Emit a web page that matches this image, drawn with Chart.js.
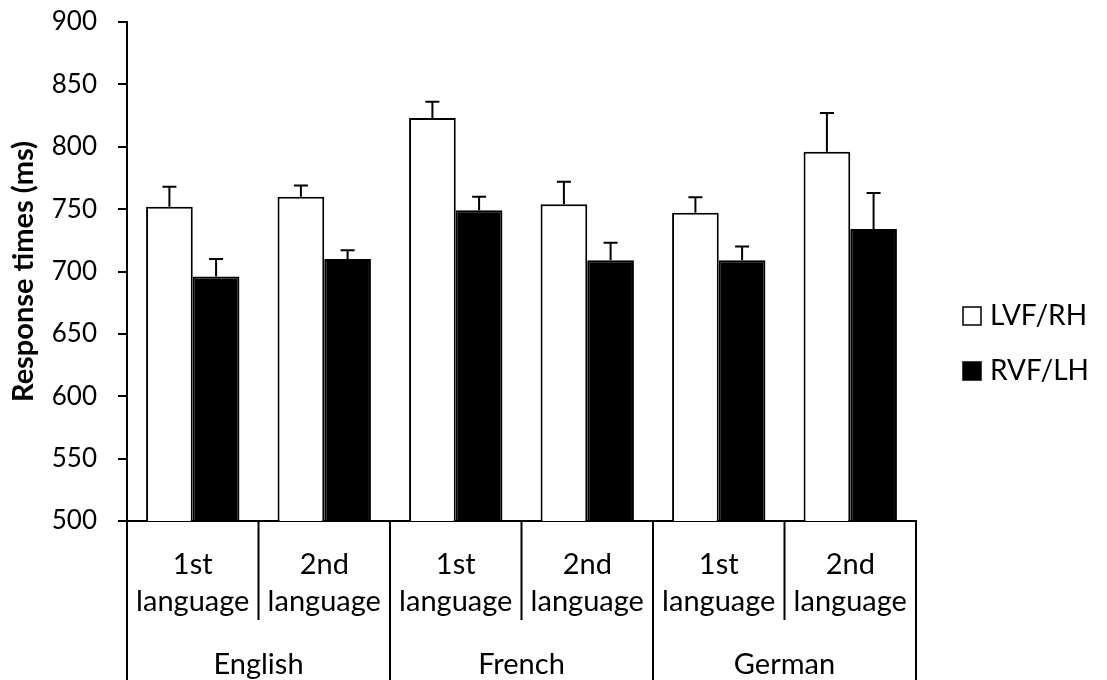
<!DOCTYPE html>
<html>
<head>
<meta charset="utf-8">
<title>Response times</title>
<script src="https://cdn.jsdelivr.net/npm/chart.js@4.4.1/dist/chart.umd.min.js"></script>
<style>
  html, body { margin: 0; padding: 0; background: #fff; }
  #wrap { width: 1107px; height: 680px; }
</style>
</head>
<body>
<div id="wrap"><canvas id="rtChart" width="1107" height="680"></canvas></div>
<script>
const categories = [
  ['1st', 'language'], ['2nd', 'language'],
  ['1st', 'language'], ['2nd', 'language'],
  ['1st', 'language'], ['2nd', 'language']
];
const languages = ['English', 'French', 'German'];
const seriesNames = ['LVF/RH', 'RVF/LH'];

const lvfValues = [752, 760, 823, 754, 747, 796];
const lvfErrors = [16, 9, 13, 18, 12.5, 31];
const rvfValues = [696, 710, 749, 709, 709, 734];
const rvfErrors = [14, 7, 11, 14, 11, 29];

const yMin = 500;
const yMax = 900;
const yStep = 50;

const FONT = 'Lato, Calibri, Carlito, sans-serif';

// error bars, drawn upwards only
const errorBars = {
  id: 'errorBars',
  afterDatasetsDraw(chart) {
    const ctx = chart.ctx;
    const y = chart.scales.y;
    chart.data.datasets.forEach((ds, i) => {
      const meta = chart.getDatasetMeta(i);
      meta.data.forEach((bar, j) => {
        const top = y.getPixelForValue(ds.data[j] + ds.errors[j]);
        ctx.save();
        ctx.strokeStyle = '#000';
        ctx.lineWidth = 2;
        ctx.beginPath();
        ctx.moveTo(bar.x, bar.y);
        ctx.lineTo(bar.x, top);
        ctx.moveTo(bar.x - 7, top);
        ctx.lineTo(bar.x + 7, top);
        ctx.stroke();
        ctx.restore();
      });
    });
  }
};

// table-like dividers under the plot + the legend on the right
const tableLines = {
  id: 'tableLines',
  afterDraw(chart) {
    const ctx = chart.ctx;
    const x = chart.scales.x;
    const area = chart.chartArea;
    const half = (x.getPixelForValue(1) - x.getPixelForValue(0)) / 2;
    ctx.save();
    ctx.strokeStyle = '#000';
    ctx.lineWidth = 2;
    ctx.beginPath();
    for (let i = 0; i <= categories.length; i++) {
      const px = i < categories.length ? x.getPixelForValue(i) - half : x.getPixelForValue(i - 1) + half;
      const end = i % 2 === 0 ? chart.height : x.bottom;
      ctx.moveTo(px, area.bottom);
      ctx.lineTo(px, end);
    }
    ctx.stroke();

    // legend
    ctx.font = '28px ' + FONT;
    ctx.textBaseline = 'middle';
    ctx.fillStyle = '#000';
    chart.data.datasets.forEach((ds, i) => {
      const bx = area.right + 47;
      const cy = chart.height / 2 - 24 + i * 55;
      ctx.fillStyle = ds.backgroundColor;
      ctx.fillRect(bx, cy - 9, 18, 18);
      ctx.lineWidth = 1.5;
      ctx.strokeRect(bx, cy - 9, 18, 18);
      ctx.fillStyle = '#000';
      ctx.fillText(ds.label, bx + 27, cy);
    });
    ctx.restore();
  }
};

const ctx = document.getElementById('rtChart').getContext('2d');
new Chart(ctx, {
  type: 'bar',
  data: {
    labels: categories,
    datasets: [
      {
        label: seriesNames[0],
        data: lvfValues,
        errors: lvfErrors,
        backgroundColor: '#ffffff',
        borderColor: '#000000',
        borderWidth: 2
      },
      {
        label: seriesNames[1],
        data: rvfValues,
        errors: rvfErrors,
        backgroundColor: '#000000',
        borderColor: '#000000',
        borderWidth: 2
      }
    ]
  },
  options: {
    responsive: false,
    animation: false,
    categoryPercentage: 0.71,
    barPercentage: 1.0,
    layout: { padding: { left: 0, right: 191, top: 22, bottom: 0 } },
    plugins: {
      legend: { display: false },
      tooltip: { enabled: false }
    },
    scales: {
      y: {
        min: yMin,
        max: yMax,
        ticks: {
          stepSize: yStep,
          color: '#000',
          padding: 21,
          font: { family: FONT, size: 26 }
        },
        grid: {
          drawOnChartArea: false,
          drawTicks: true,
          tickLength: 9,
          color: '#000',
          lineWidth: 2
        },
        border: { display: true, color: '#000', width: 2 },
        title: {
          display: true,
          text: 'Response times (ms)',
          color: '#000',
          padding: { top: 6, bottom: 4 },
          font: { family: FONT, size: 29, weight: 'bold', lineHeight: 1.2 }
        },
        afterFit(scale) {
          scale.width = 127;
          scale.paddingTop = 0;
          scale.paddingBottom = 0;
        }
      },
      x: {
        weight: 0,
        ticks: {
          color: '#000',
          padding: 26,
          maxRotation: 0,
          autoSkip: false,
          font: { family: FONT, size: 29, lineHeight: 1.25 }
        },
        grid: { display: false, drawTicks: false },
        border: { display: true, color: '#000', width: 2 },
        afterFit(scale) { scale.height = 99; }
      },
      x2: {
        type: 'category',
        position: 'bottom',
        weight: 1,
        labels: languages,
        offset: true,
        ticks: {
          color: '#000',
          padding: 27,
          maxRotation: 0,
          font: { family: FONT, size: 29, lineHeight: 1.25 }
        },
        grid: { display: false, drawTicks: false },
        border: { display: false },
        afterFit(scale) { scale.height = 60; }
      }
    }
  },
  plugins: [errorBars, tableLines]
});
</script>
</body>
</html>
